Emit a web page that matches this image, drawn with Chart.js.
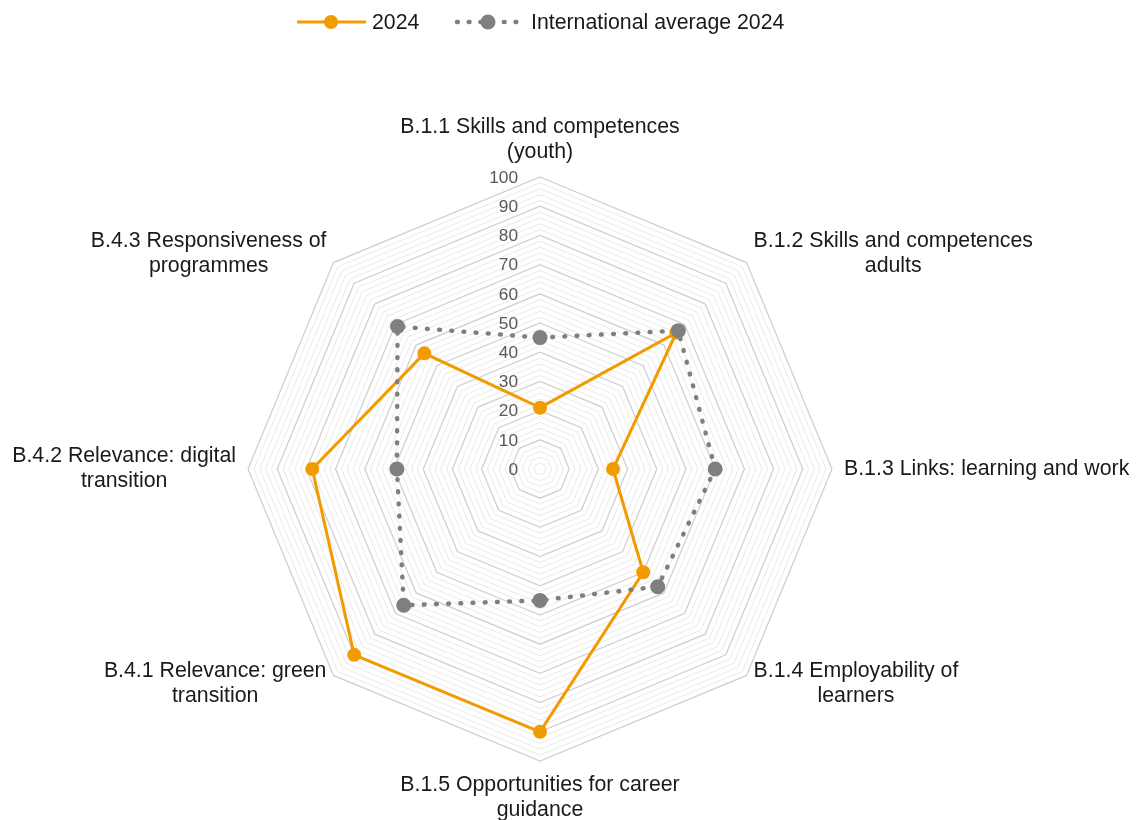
<!DOCTYPE html>
<html>
<head>
<meta charset="utf-8">
<title>Skills and labour-market relevance radar</title>
<script src="https://cdn.jsdelivr.net/npm/chart.js@4.4.1/dist/chart.umd.min.js"></script>
<style>
  html, body { margin: 0; padding: 0; background: #ffffff; }
  #wrap { width: 1138px; height: 820px; }
</style>
</head>
<body>
<div id="wrap"><canvas id="radar" width="1138" height="820"></canvas></div>
<script>
// Indicator names (each entry is a list of display lines)
const categories = [
  ["B.1.1 Skills and competences", "(youth)"],
  ["B.1.2 Skills and competences", "adults"],
  ["B.1.3 Links: learning and work"],
  ["B.1.4 Employability of", "learners"],
  ["B.1.5 Opportunities for career", "guidance"],
  ["B.4.1 Relevance: green", "transition"],
  ["B.4.2 Relevance: digital", "transition"],
  ["B.4.3 Responsiveness of", "programmes"]
];

const seriesNames = ["2024", "International average 2024"];
const values2024 = [21, 66, 25, 50, 90, 90, 78, 56];
const valuesIntlAvg = [45, 67, 60, 57, 45, 66, 49, 69];

const tickLabels = [0, 10, 20, 30, 40, 50, 60, 70, 80, 90, 100];

const ORANGE = "#f29b00";
const GREY = "#7f7f7f";
const FONT = "'Liberation Sans', Arial, sans-serif";
const LABEL_SIZE = 21.3;
const TICK_SIZE = 17.3;

// Ring value labels, drawn right-aligned just left of the vertical axis
const tickLabelPlugin = {
  id: "tickLabels",
  afterDatasetsDraw(chart) {
    const scale = chart.scales.r;
    const ctx = chart.ctx;
    ctx.save();
    ctx.font = TICK_SIZE + "px " + FONT;
    ctx.fillStyle = "#595959";
    ctx.textAlign = "right";
    ctx.textBaseline = "middle";
    tickLabels.forEach(v => {
      const d = scale.getDistanceFromCenterForValue(v);
      ctx.fillText(String(v), scale.xCenter - 22, scale.yCenter - d + 1);
    });
    ctx.restore();
  }
};

// Axis titles with every line centred inside its own block
const pointLabelPlugin = {
  id: "axisTitles",
  afterDraw(chart) {
    const scale = chart.scales.r;
    const ctx = chart.ctx;
    const lineH = 25;
    ctx.save();
    ctx.font = LABEL_SIZE + "px " + FONT;
    ctx.fillStyle = "#1a1a1a";
    ctx.textBaseline = "middle";
    ctx.textAlign = "center";
    categories.forEach((lines, i) => {
      const diagonal = i % 2 === 1;
      const p = scale.getPointPosition(i, scale.drawingArea + (diagonal ? 10 : 12));
      const widths = lines.map(t => ctx.measureText(t).width);
      const blockW = Math.max(...widths);
      const blockH = lines.length * lineH;
      const dx = p.x - scale.xCenter;
      const dy = p.y - scale.yCenter;
      let cx, top;
      if (Math.abs(dx) < 1) {
        cx = p.x;
      } else if (dx > 0) {
        cx = p.x + blockW / 2;
      } else {
        cx = p.x - blockW / 2;
      }
      if (Math.abs(dx) < 1) {
        top = dy < 0 ? p.y - blockH : p.y;
      } else {
        top = p.y - blockH / 2 + (diagonal ? (dy < 0 ? -2 : 1.5) : 0);
      }
      lines.forEach((t, k) => {
        ctx.fillText(t, cx, top + lineH * k + lineH / 2);
      });
    });
    ctx.restore();
  }
};

// Legend at the top: line sample with marker, then series name
const legendPlugin = {
  id: "topLegend",
  afterDraw(chart) {
    const ctx = chart.ctx;
    const y = 22;
    ctx.save();
    // 2024
    ctx.strokeStyle = ORANGE;
    ctx.lineWidth = 3;
    ctx.beginPath();
    ctx.moveTo(297, y);
    ctx.lineTo(366, y);
    ctx.stroke();
    ctx.fillStyle = ORANGE;
    ctx.beginPath();
    ctx.arc(331, y, 7, 0, Math.PI * 2);
    ctx.fill();
    // International average
    ctx.strokeStyle = GREY;
    ctx.lineWidth = 4.5;
    ctx.lineCap = "round";
    ctx.setLineDash([0.8, 10.9]);
    ctx.beginPath();
    ctx.moveTo(457, y);
    ctx.lineTo(518, y);
    ctx.stroke();
    ctx.setLineDash([]);
    ctx.fillStyle = GREY;
    ctx.beginPath();
    ctx.arc(488, y, 7.5, 0, Math.PI * 2);
    ctx.fill();
    // Names
    ctx.font = LABEL_SIZE + "px " + FONT;
    ctx.fillStyle = "#1a1a1a";
    ctx.textBaseline = "middle";
    ctx.textAlign = "left";
    ctx.fillText(seriesNames[0], 372, y + 1);
    ctx.fillText(seriesNames[1], 531, y + 1);
    ctx.restore();
  }
};

new Chart(document.getElementById("radar"), {
  type: "radar",
  data: {
    labels: categories,
    datasets: [
      {
        label: seriesNames[0],
        data: values2024,
        borderColor: ORANGE,
        backgroundColor: ORANGE,
        borderWidth: 3,
        pointRadius: 7,
        pointBorderWidth: 0,
        pointBackgroundColor: ORANGE,
        fill: false,
        order: 2
      },
      {
        label: seriesNames[1],
        data: valuesIntlAvg,
        borderColor: GREY,
        backgroundColor: GREY,
        borderWidth: 4.5,
        borderDash: [0.8, 11.4],
        borderCapStyle: "round",
        pointRadius: 7.5,
        pointBorderWidth: 0,
        pointBackgroundColor: GREY,
        fill: false,
        order: 1
      }
    ]
  },
  options: {
    responsive: false,
    animation: false,
    devicePixelRatio: 1,
    layout: { padding: { left: 248, right: 306, top: 177, bottom: 58 } },
    plugins: {
      legend: { display: false },
      tooltip: { enabled: false }
    },
    elements: { line: { tension: 0 } },
    scales: {
      r: {
        min: 0,
        max: 100,
        beginAtZero: true,
        angleLines: { display: false },
        grid: {
          circular: false,
          color: c => (c.tick && c.tick.value % 10 === 0) ? "#d0d0d0" : "#e9e9e9",
          lineWidth: c => (c.tick && c.tick.value % 10 === 0) ? 1.3 : 1
        },
        ticks: { display: false, stepSize: 2 },
        pointLabels: { display: false }
      }
    }
  },
  plugins: [tickLabelPlugin, pointLabelPlugin, legendPlugin]
});
</script>
</body>
</html>
